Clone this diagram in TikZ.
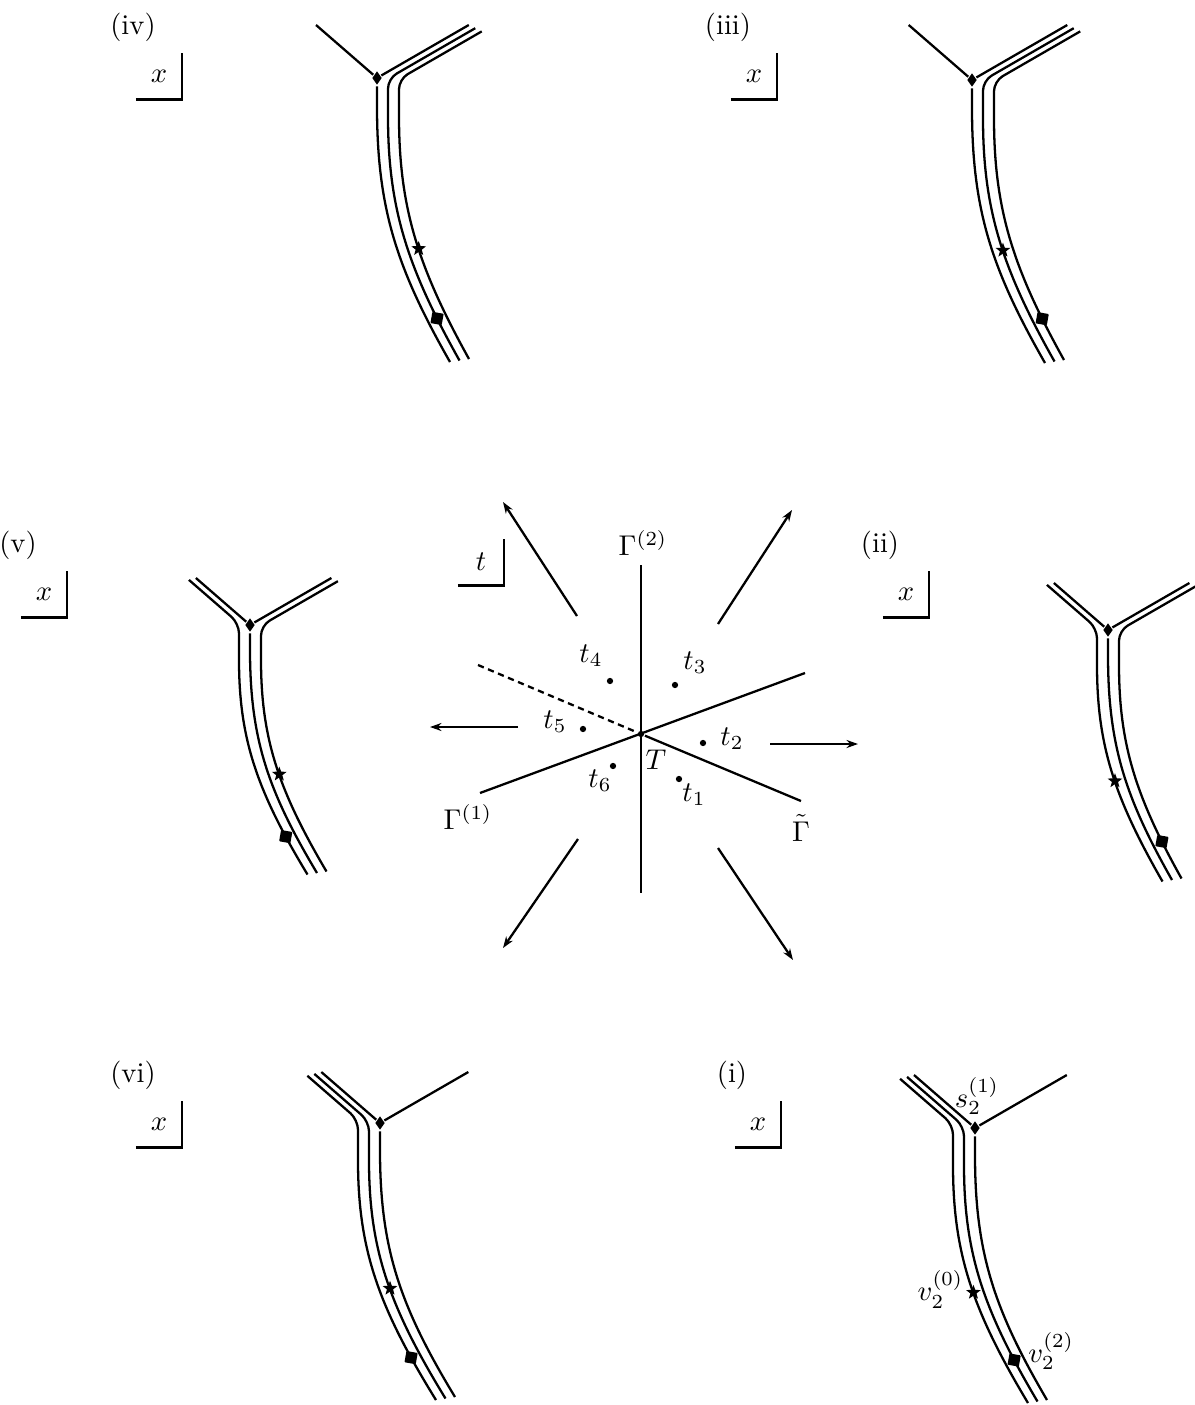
\documentclass[tikz,border=0pt]{standalone}
\usetikzlibrary{arrows.meta, positioning, calc, shapes.geometric}

\begin{document}
\begin{tikzpicture}[
    x=0.35pt, y=-0.35pt,
    line width=0.8pt,
    junction/.style={diamond, fill, inner sep=0pt, minimum width=3.6pt, minimum height=5pt},
    starmark/.style={star, star points=5, star point ratio=2.4, fill, inner sep=0pt, minimum size=5.4pt},
    squaremark/.style={rectangle, fill, inner sep=0pt, minimum size=4pt, rotate=-10, rounded corners=0.3pt},
    dot/.style={circle, fill, inner sep=0pt, minimum size=2.2pt},
    varbox/.style={inner sep=0pt, minimum width=15.4pt, minimum height=15.6pt},
    ray/.style={-{Stealth[length=4pt, width=2.8pt]}},
    dashline/.style={dash pattern=on 2.2pt off 1.6pt},
]

\useasboundingbox (0,0) rectangle (1194,1405);

% ------------------------------------------------------------ the six x-planes
% junction, lines up-left, bundle height, end of spine, star line, square line, label
\foreach \id/\px/\py/\nup/\tp/\ex/\ey/\ks/\kq/\lx/\ly in {
        iv/377/78/1/53/73/284/2/1/133/27,
        iii/972/80/1/55/73/283/1/2/728/27,
        v/250/625/2/47/67/248/1/-1/18/545,
        ii/1108/630/2/47/64/250/-1/1/880/545,
        vi/380/1123/3/51/75/274/-1/-2/133/1075,
        i/975/1128/3/53/72/272/-2/-1/732/1075} {

    \node (\id-lab) at (\lx,\ly) {(\id)};
    \node[varbox] (\id-box) at ($(\id-lab)+(26,49)$) {$x$};
    \draw (\id-box.south west) -- (\id-box.south east) -- (\id-box.north east);

    \begin{scope}[shift={(\px,\py)}]
        \pgfmathsetmacro\ya{0.1*\ey}
        \pgfmathsetmacro\yb{0.46*\ey}
        \pgfmathsetmacro\xc{0.27*\ex}
        \pgfmathsetmacro\yc{0.67*\ey}
        \pgfmathsetmacro\sL{\tp/0.656}
        \pgfmathsetmacro\sR{2*\tp}
        \pgfmathtruncatemacro\kmin{1-\nup}
        \pgfmathtruncatemacro\kmax{3-\nup}

        \node[junction] (\id-D) at (0,0) {};
        \draw (\id-D) -- (-0.755*\sL, -\tp);
        \draw (\id-D) -- (0.866*\sR, -\tp);

        \foreach \kk in {\kmin,...,\kmax} {
            \ifnum\kk=0
                \draw (\id-D) -- (0,\ya) .. controls (0,\yb) and (\xc,\yc) .. (\ex,\ey)
                    coordinate[pos=0.55] (\id-s\kk) coordinate[pos=0.84] (\id-q\kk);
            \else
                \ifnum\kk>0
                    \pgfmathsetmacro\endx{3*\kk + 0.866*(\sR + 4*\kk)}
                    \pgfmathsetmacro\endy{5.2*\kk - 0.5*(\sR + 4*\kk)}
                    \pgfmathsetmacro\cy{0.58*\kk}
                \else
                    \pgfmathsetmacro\endx{3.94*\kk - 0.755*(\sL - 4*\kk)}
                    \pgfmathsetmacro\endy{-4.53*\kk - 0.656*(\sL - 4*\kk)}
                    \pgfmathsetmacro\cy{1.6*\kk}
                \fi
                \draw[rounded corners=3.5pt] (\endx,\endy) -- (11*\kk,\cy) -- (11*\kk,\ya)
                    .. controls (11*\kk,\yb) and (\xc+11*\kk,\yc) .. (\ex+9.5*\kk,\ey-1.5*\kk)
                    coordinate[pos=0.55] (\id-s\kk) coordinate[pos=0.84] (\id-q\kk);
            \fi
        }

        \node[starmark] (\id-star) at (\id-s\ks) {};
        \node[squaremark] (\id-sq) at (\id-q\kq) {};
    \end{scope}
}

% names of the three points in (i)
\node (s21) at ($(i-D)+(2,-32)$) {$s_2^{(1)}$};
\node (v20) at ($(i-star)+(-33,-3)$) {$v_2^{(0)}$};
\node (v22) at ($(i-sq)+(37,-9)$) {$v_2^{(2)}$};

% ------------------------------------------------------------ the t-plane
\node[varbox] (tbox) at (481,562) {$t$};
\draw (tbox.south west) -- (tbox.south east) -- (tbox.north east);

\node[dot] (T) at (641,734) {};
\coordinate (g2a) at (641,565);
\coordinate (g2b) at (641,893);
\coordinate (g1a) at (480,793);
\coordinate (g1b) at (805,673);
\coordinate (gta) at (478,665);
\coordinate (gtb) at (801,801);

\draw (g2a) -- (g2b);
\draw (g1a) -- (g1b);
\draw (T) -- (gtb);
\draw[dashline] (gta) -- (T);

\node (g2lab) at (643,543) {$\Gamma^{(2)}$};
\node (g1lab) at (468,817) {$\Gamma^{(1)}$};
\node (gtlab) at (801,828) {$\tilde{\Gamma}$};
\node (Tlab) at (656,760) {$T$};

\foreach \n/\dx/\dy/\lx/\ly in {1/679/779/694/795, 2/703/743/732/739, 3/675/685/695/663,
                                4/610/681/591/656, 5/583/729/555/722, 6/613/766/600/781} {
    \node[dot] (t\n) at (\dx,\dy) {};
    \node (t\n-lab) at (\lx,\ly) {$t_\n$};
}

% ------------------------------------------------------------ arrows out to the panels
\foreach \n/\ax/\ay/\bx/\by in {1/718/848/793/960, 2/770/744/858/744, 3/718/624/792/510,
                                4/577/616/503/502, 5/518/727/430/727, 6/578/839/503/948} {
    \coordinate (ray\n-from) at (\ax,\ay);
    \coordinate (ray\n-to) at (\bx,\by);
    \draw[ray] (ray\n-from) -- (ray\n-to);
}

\end{tikzpicture}
\end{document}
